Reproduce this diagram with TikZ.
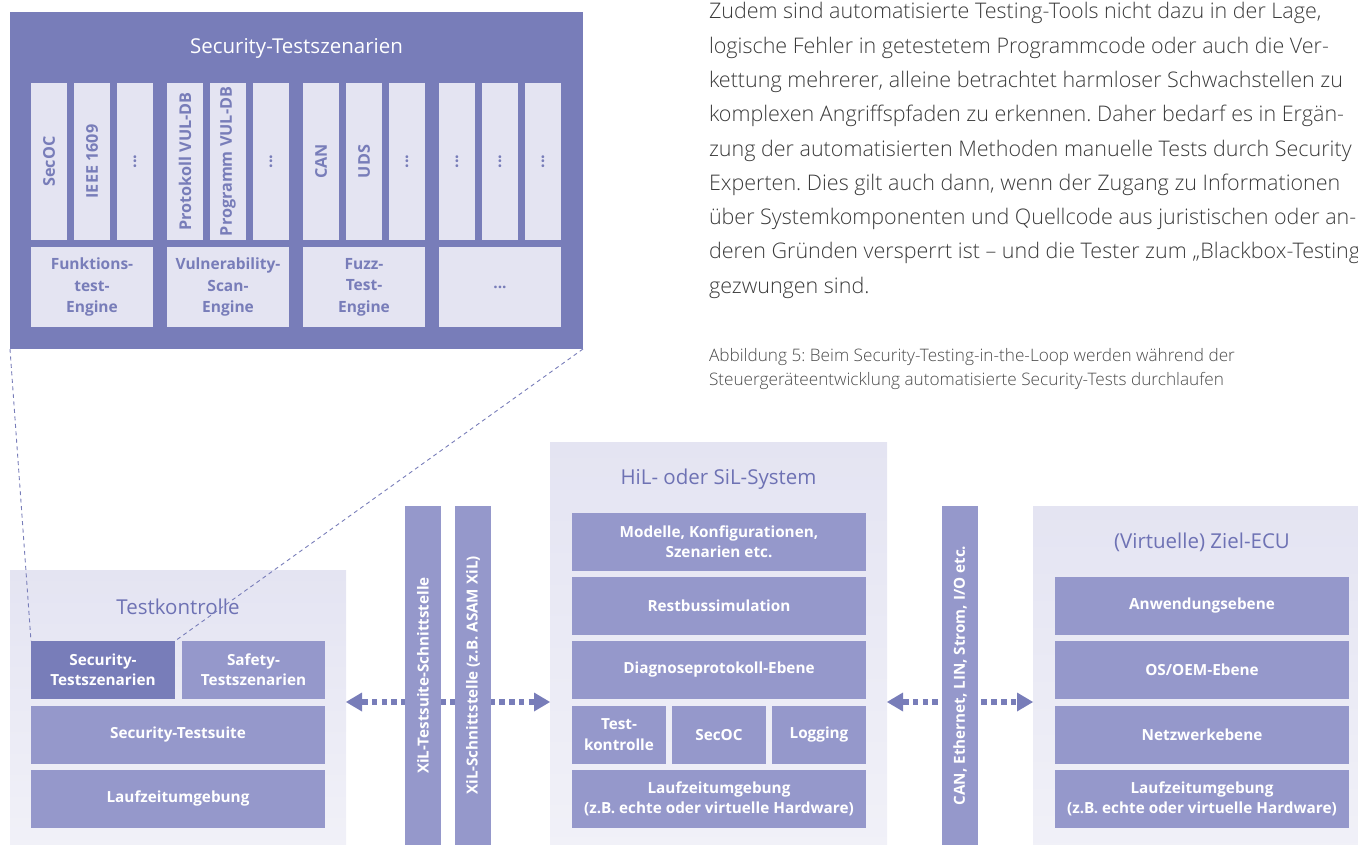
\documentclass[tikz,border=0pt]{standalone}
\usepackage{fontspec}
\setmainfont{Open Sans}
\newfontfamily\leicht{Open Sans Light}
\usepackage{xcolor}
\usetikzlibrary{arrows.meta,positioning,calc}
\definecolor{lila}{HTML}{787DB9}
\definecolor{lilahell}{HTML}{9598CB}
\definecolor{flaeche}{HTML}{E4E4F2}
\definecolor{flaecheunten}{HTML}{F1F1F8}
\definecolor{spalte}{HTML}{E4E4F2}
\definecolor{titel}{HTML}{6E72B4}
\definecolor{fliess}{HTML}{3A3A3A}
\definecolor{unterschrift}{HTML}{4A4A4A}
\frenchspacing

\begin{document}
\begin{tikzpicture}[x=1pt,y=-1pt,
box/.style={anchor=north west,inner sep=0pt,outer sep=0pt},
panel/.style={box,top color=flaeche,bottom color=flaecheunten},
layer/.style={box,fill=lilahell,text=white,align=center,font=\fontsize{15.3}{20.5}\selectfont\bfseries,minimum width=294pt,minimum height=57.5pt},
col/.style={fill=spalte,text=lila,rotate=90,inner sep=0pt,outer sep=0pt,minimum width=157pt,minimum height=36pt,font=\fontsize{16.2}{18}\selectfont\bfseries},
engine/.style={box,fill=spalte,text=lila,align=center,minimum width=122pt,minimum height=80pt,font=\fontsize{15.5}{21.5}\selectfont\bfseries},
bar/.style={fill=lilahell,text=white,rotate=90,inner sep=0pt,outer sep=0pt,minimum width=339pt,minimum height=36pt,font=\fontsize{15.2}{18}\selectfont\bfseries},
heading/.style={text=titel,font=\fontsize{20.5}{24}\selectfont},
arr/.style={{Triangle[length=16pt,width=19pt,line width=0pt]}-{Triangle[length=16pt,width=19pt,line width=0pt]},draw=lila,line width=5.5pt,dash pattern=on 5.5pt off 4.3pt},
zoomline/.style={draw=lila,line width=0.9pt,dash pattern=on 4pt off 3.5pt}]
\useasboundingbox (0,0) rectangle (1358,845);
\clip (0,0) rectangle (1358,845);

\node[box,fill=lila,minimum width=573pt,minimum height=337pt] (szen) at (10,12) {};
\node[text=white,font=\fontsize{20.5}{24}\selectfont] (szentitel) at (296.5,48) {Security-Testszenarien};
\node[col] (secoc) at (49,161.5) {SecOC};
\node[col] (ieee) at (92,161.5) {IEEE 1609};
\node[col] (fpunkte) at (135,161.5) {...};
\node[col] (protokoll) at (185,161.5) {Protokoll VUL-DB};
\node[col] (programm) at (228,161.5) {Programm VUL-DB};
\node[col] (vpunkte) at (271,161.5) {...};
\node[col] (can) at (321,161.5) {CAN};
\node[col] (uds) at (364,161.5) {UDS};
\node[col] (zpunkte) at (407,161.5) {...};
\node[col] (wpunkte) at (457,161.5) {...};
\node[col] (xpunkte) at (500,161.5) {...};
\node[col] (ypunkte) at (543,161.5) {...};
\node[engine] (funktion) at (31,247) {Funktions-\\test-\\Engine};
\node[engine] (vulscan) at (167,247) {Vulnerability-\\Scan-\\Engine};
\node[engine] (fuzz) at (303,247) {Fuzz-\\Test-\\Engine};
\node[engine] (weitere) at (439,247) {...};

\node[box,align=left,text=fliess,font=\leicht\fontsize{21.5}{34.3}\selectfont] (fliesstext) at (709,2.5) {Zudem sind automatisierte Testing-Tools nicht dazu in der Lage,\\logische Fehler in getestetem Programmcode oder auch die Ver-\\kettung mehrerer, alleine betrachtet harmloser Schwachstellen zu\\komplexen Angriffspfaden zu erkennen. Daher bedarf es in Ergän-\\zung der automatisierten Methoden manuelle Tests durch Security\\Experten. Dies gilt auch dann, wenn der Zugang zu Informationen\\über Systemkomponenten und Quellcode aus juristischen oder an-\\deren Gründen versperrt ist – und die Tester zum „Blackbox-Testing\\gezwungen sind.};
\node[box,align=left,text=unterschrift,font=\leicht\fontsize{17.2}{24}\selectfont] (abbildung) at (709,348.5) {Abbildung 5: Beim Security-Testing-in-the-Loop werden während der\\Steuergeräteentwicklung automatisierte Security-Tests durchlaufen};

\node[panel,minimum width=336pt,minimum height=280pt] (tk) at (10,570) {};
\node[heading] (tktitel) at (178,607) {Testkontrolle};
\node[layer,fill=lila,minimum width=144pt] (sects) at (31,641) {Security-\\Testszenarien};
\node[layer,minimum width=143pt] (safety) at (182,641) {Safety-\\Testszenarien};
\node[layer] (suite) at (31,706) {Security-Testsuite};
\node[layer] (tklzu) at (31,770) {Laufzeitumgebung};

\node[panel,minimum width=337pt,minimum height=410pt] (hil) at (550,442) {};
\node[heading] (hiltitel) at (718.5,479) {HiL- oder SiL-System};
\node[layer] (modelle) at (572,513) {Modelle, Konfigurationen,\\Szenarien etc.};
\node[layer] (restbus) at (572,577) {Restbussimulation};
\node[layer] (diag) at (572,641) {Diagnoseprotokoll-Ebene};
\node[layer,minimum width=94pt] (hiltk) at (572,706) {Test-\\kontrolle};
\node[layer,minimum width=94pt] (hilsecoc) at (672,706) {SecOC};
\node[layer,minimum width=94pt] (logging) at (772,706) {Logging};
\node[layer] (hillzu) at (572,770) {Laufzeitumgebung\\(z.B. echte oder virtuelle Hardware)};

\node[panel,minimum width=340pt,minimum height=350pt] (ecu) at (1033,506) {};
\node[heading] (ecutitel) at (1202,542) {(Virtuelle) Ziel-ECU};
\node[layer] (anwendung) at (1055,577) {Anwendungsebene};
\node[layer] (osoem) at (1055,641) {OS/OEM-Ebene};
\node[layer] (netzwerk) at (1055,706) {Netzwerkebene};
\node[layer] (eculzu) at (1055,770) {Laufzeitumgebung\\(z.B. echte oder virtuelle Hardware)};

\draw[zoomline] (szen.south west) -- (sects.north west);
\draw[zoomline] (szen.south east) -- (sects.north east);

\coordinate (linkhoehe) at (0,702);
\draw[arr] (tk.east |- linkhoehe) -- (hil.west |- linkhoehe);
\draw[arr] (hil.east |- linkhoehe) -- (ecu.west |- linkhoehe);

\node[bar] (xilsuite) at (423,675.5) {XiL-Testsuite-Schnittstelle};
\node[bar] (xilasam) at (473,675.5) {XiL-Schnittstelle (z.B. ASAM XiL)};
\node[bar] (bus) at (960,675.5) {CAN, Ethernet, LIN, Strom, I/O etc.};
\end{tikzpicture}
\end{document}
